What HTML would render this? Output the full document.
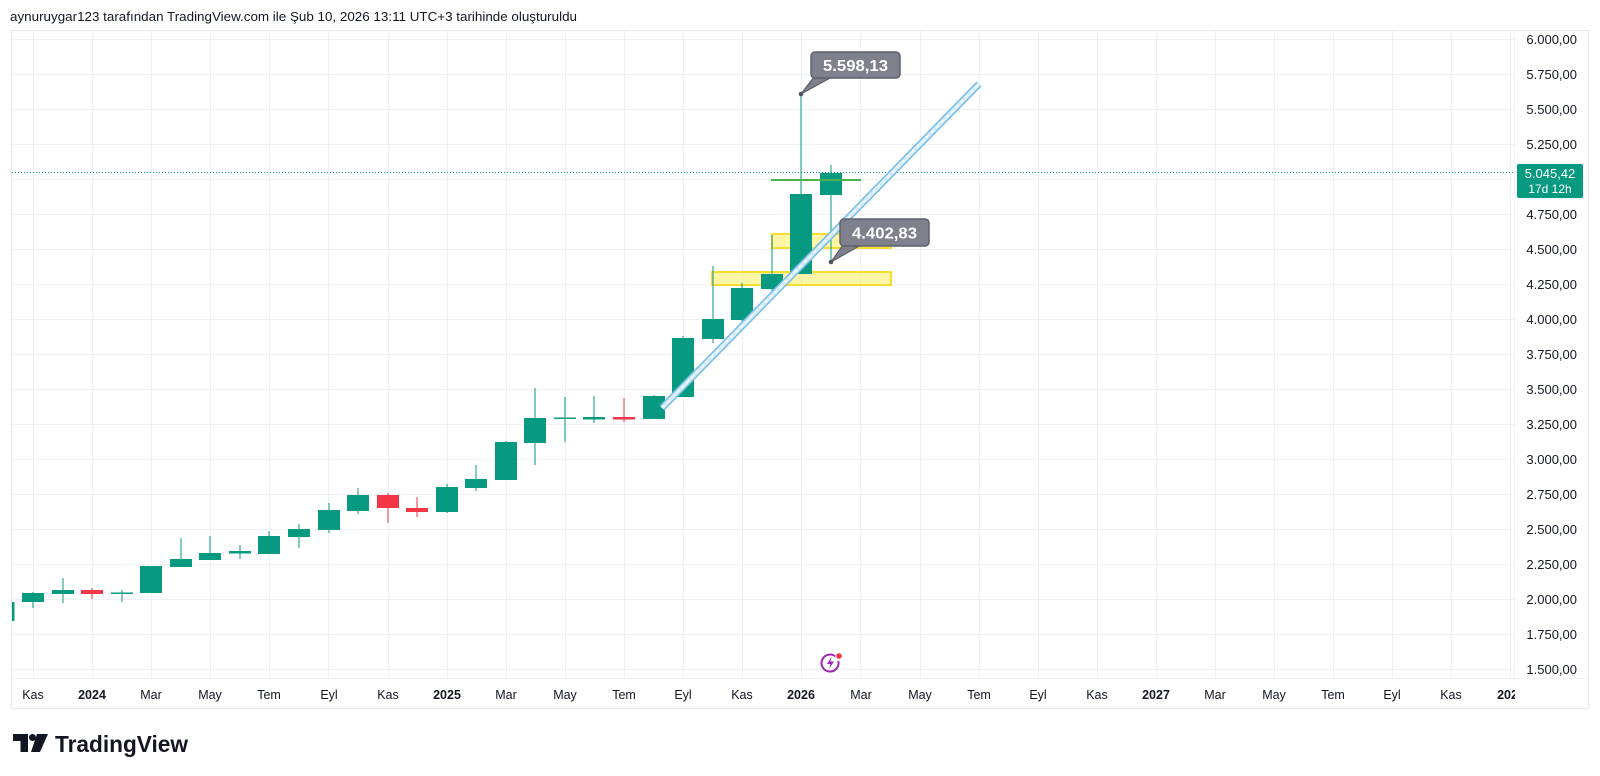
<!DOCTYPE html>
<html><head><meta charset="utf-8"><style>
html,body{margin:0;padding:0;background:#fff;}
svg{display:block;}
</style></head><body>
<svg width="1600" height="776" viewBox="0 0 1600 776" xmlns="http://www.w3.org/2000/svg" font-family="'Liberation Sans', sans-serif">
<rect width="1600" height="776" fill="#ffffff"/>
<text x="10" y="21" font-size="13" fill="#131722" textLength="567" lengthAdjust="spacingAndGlyphs">aynuruygar123 tarafından TradingView.com ile Şub 10, 2026 13:11 UTC+3 tarihinde oluşturuldu</text>

<!-- chart frame -->
<rect x="11.5" y="30.5" width="1577" height="678" fill="none" stroke="#e6e8ee" stroke-width="1"/>
<line x1="1514.5" y1="31" x2="1514.5" y2="678" stroke="#f0f2f6"/>
<line x1="12" y1="678.5" x2="1588" y2="678.5" stroke="#f0f2f6"/>

<defs>
<clipPath id="plot"><rect x="12" y="31" width="1502" height="647"/></clipPath>
<clipPath id="tax"><rect x="12" y="679" width="1503" height="29"/></clipPath>
</defs>

<g stroke="#eef0f4" stroke-width="1">
<line x1="12" x2="1514" y1="39.5" y2="39.5"/><line x1="12" x2="1514" y1="74.5" y2="74.5"/>
<line x1="12" x2="1514" y1="109.5" y2="109.5"/><line x1="12" x2="1514" y1="144.5" y2="144.5"/>
<line x1="12" x2="1514" y1="179.5" y2="179.5"/><line x1="12" x2="1514" y1="214.5" y2="214.5"/>
<line x1="12" x2="1514" y1="249.5" y2="249.5"/><line x1="12" x2="1514" y1="284.5" y2="284.5"/>
<line x1="12" x2="1514" y1="319.5" y2="319.5"/><line x1="12" x2="1514" y1="354.5" y2="354.5"/>
<line x1="12" x2="1514" y1="389.5" y2="389.5"/><line x1="12" x2="1514" y1="424.5" y2="424.5"/>
<line x1="12" x2="1514" y1="459.5" y2="459.5"/><line x1="12" x2="1514" y1="494.5" y2="494.5"/>
<line x1="12" x2="1514" y1="529.5" y2="529.5"/><line x1="12" x2="1514" y1="564.5" y2="564.5"/>
<line x1="12" x2="1514" y1="599.5" y2="599.5"/><line x1="12" x2="1514" y1="634.5" y2="634.5"/>
<line x1="12" x2="1514" y1="669.5" y2="669.5"/>
<line y1="31" y2="678" x1="33.5" x2="33.5"/><line y1="31" y2="678" x1="92.5" x2="92.5"/>
<line y1="31" y2="678" x1="151.5" x2="151.5"/><line y1="31" y2="678" x1="210.5" x2="210.5"/>
<line y1="31" y2="678" x1="269.5" x2="269.5"/><line y1="31" y2="678" x1="328.5" x2="328.5"/>
<line y1="31" y2="678" x1="388.5" x2="388.5"/><line y1="31" y2="678" x1="447.5" x2="447.5"/>
<line y1="31" y2="678" x1="506.5" x2="506.5"/><line y1="31" y2="678" x1="565.5" x2="565.5"/>
<line y1="31" y2="678" x1="624.5" x2="624.5"/><line y1="31" y2="678" x1="683.5" x2="683.5"/>
<line y1="31" y2="678" x1="742.5" x2="742.5"/><line y1="31" y2="678" x1="801.5" x2="801.5"/>
<line y1="31" y2="678" x1="860.5" x2="860.5"/><line y1="31" y2="678" x1="920.5" x2="920.5"/>
<line y1="31" y2="678" x1="979.5" x2="979.5"/><line y1="31" y2="678" x1="1038.5" x2="1038.5"/>
<line y1="31" y2="678" x1="1097.5" x2="1097.5"/><line y1="31" y2="678" x1="1156.5" x2="1156.5"/>
<line y1="31" y2="678" x1="1215.5" x2="1215.5"/><line y1="31" y2="678" x1="1274.5" x2="1274.5"/>
<line y1="31" y2="678" x1="1333.5" x2="1333.5"/><line y1="31" y2="678" x1="1392.5" x2="1392.5"/>
<line y1="31" y2="678" x1="1451.5" x2="1451.5"/><line y1="31" y2="678" x1="1510.5" x2="1510.5"/>
</g>

<g clip-path="url(#plot)">
<line x1="12" x2="1514" y1="172.5" y2="172.5" stroke="#089981" stroke-width="1" stroke-dasharray="1 2"/>

<rect x="772" y="234" width="119" height="14" fill="rgba(255,236,80,0.5)" stroke="#f7dd30" stroke-width="2"/>
<rect x="712" y="272" width="179" height="13" fill="rgba(255,236,80,0.5)" stroke="#f7dd30" stroke-width="2"/>

<g fill="#089981">
<rect x="12" y="602" width="2.5" height="19"/>
<rect x="32.5" y="592" width="1" height="16"/><rect x="22" y="593" width="22" height="9"/>
<rect x="62.5" y="578" width="1" height="25"/><rect x="52" y="590" width="22" height="4"/>
<rect x="121.5" y="590" width="1" height="12"/><rect x="111" y="592.5" width="22" height="1.5"/>
<rect x="150.5" y="566" width="1" height="27"/><rect x="140" y="566" width="22" height="27"/>
<rect x="180.5" y="538" width="1" height="29"/><rect x="170" y="559" width="22" height="8"/>
<rect x="209.5" y="536" width="1" height="24"/><rect x="199" y="553" width="22" height="7"/>
<rect x="239.5" y="545" width="1" height="14"/><rect x="229" y="551" width="22" height="2.5"/>
<rect x="268.5" y="531" width="1" height="23"/><rect x="258" y="536" width="22" height="18"/>
<rect x="298.5" y="524" width="1" height="24"/><rect x="288" y="529" width="22" height="8"/>
<rect x="328.5" y="503" width="1" height="30"/><rect x="318" y="510" width="22" height="20"/>
<rect x="357.5" y="488" width="1" height="26"/><rect x="347" y="495" width="22" height="16"/>
<rect x="446.5" y="484" width="1" height="29"/><rect x="436" y="487" width="22" height="25"/>
<rect x="475.5" y="465" width="1" height="26"/><rect x="465" y="479" width="22" height="9"/>
<rect x="505.5" y="441" width="1" height="39"/><rect x="495" y="442" width="22" height="38"/>
<rect x="534.5" y="388" width="1" height="77"/><rect x="524" y="418" width="22" height="25"/>
<rect x="564.5" y="397" width="1" height="45"/><rect x="554" y="417.5" width="22" height="1.5"/>
<rect x="593.5" y="396" width="1" height="27"/><rect x="583" y="417" width="22" height="2.5"/>
<rect x="653.5" y="395" width="1" height="24"/><rect x="643" y="396" width="22" height="23"/>
<rect x="682.5" y="336" width="1" height="61"/><rect x="672" y="338" width="22" height="59"/>
<rect x="712.5" y="266" width="1" height="77"/><rect x="702" y="319" width="22" height="20"/>
<rect x="741.5" y="283" width="1" height="44"/><rect x="731" y="288" width="22" height="32"/>
<rect x="771.5" y="235" width="1" height="60"/><rect x="761" y="274" width="22" height="15"/>
<rect x="800.5" y="94" width="1" height="180"/><rect x="790" y="194" width="22" height="80"/>
<rect x="830.5" y="165" width="1" height="98"/><rect x="820" y="173" width="22" height="22"/>
</g>
<g fill="#f23645">
<rect x="91.5" y="588" width="1" height="11"/><rect x="81" y="590" width="22" height="4"/>
<rect x="387.5" y="493" width="1" height="30"/><rect x="377" y="495" width="22" height="13"/>
<rect x="416.5" y="497" width="1" height="20"/><rect x="406" y="508" width="22" height="4"/>
<rect x="623.5" y="398" width="1" height="24"/><rect x="613" y="417" width="22" height="2.5"/>
</g>

<line x1="771" x2="861" y1="180" y2="180" stroke="#4caf50" stroke-width="2"/>

<line x1="662" y1="408" x2="979" y2="84" stroke="#78bde6" stroke-width="7"/>
<line x1="662" y1="408" x2="979" y2="84" stroke="#d3ebf9" stroke-width="4"/>
<line x1="662" y1="408" x2="979" y2="84" stroke="#ffffff" stroke-width="1.2" stroke-dasharray="4 3"/>
</g>

<g>
<polygon points="814,77 832,77 801,94" fill="#7e818b" stroke="#5d606b" stroke-width="1.2" stroke-linejoin="round"/>
<rect x="811" y="52" width="89" height="26" rx="4" fill="#7e818b" stroke="#5d606b" stroke-width="1.5"/>
<rect x="815" y="74" width="19" height="3" fill="#7e818b"/>
<circle cx="801" cy="94" r="2.3" fill="#50535e"/>
<text x="855.5" y="71" font-size="16" font-weight="bold" fill="#ffffff" text-anchor="middle" textLength="65" lengthAdjust="spacingAndGlyphs">5.598,13</text>

<polygon points="843,245 861,245 831,262" fill="#7e818b" stroke="#5d606b" stroke-width="1.2" stroke-linejoin="round"/>
<rect x="840" y="219" width="89" height="27" rx="4" fill="#7e818b" stroke="#5d606b" stroke-width="1.5"/>
<rect x="844" y="242" width="19" height="3" fill="#7e818b"/>
<circle cx="831" cy="262" r="2.3" fill="#50535e"/>
<text x="884.5" y="238.5" font-size="16" font-weight="bold" fill="#ffffff" text-anchor="middle" textLength="65" lengthAdjust="spacingAndGlyphs">4.402,83</text>
</g>

<g>
<path d="M836.5,657.5 A8.5,8.5 0 1 0 838.3,661" fill="none" stroke="#9c27b0" stroke-width="2"/>
<path d="M831.5,657 L827,664 L830.5,664 L829,669 L834,661.5 L830.5,661.5 Z" fill="#9c27b0"/>
<circle cx="839" cy="656" r="3.3" fill="#f23645" stroke="#ffffff" stroke-width="1"/>
</g>

<g font-size="13" fill="#131722" text-anchor="end">
<text x="1577" y="44">6.000,00</text>
<text x="1577" y="79">5.750,00</text>
<text x="1577" y="114">5.500,00</text>
<text x="1577" y="149">5.250,00</text>
<text x="1577" y="219">4.750,00</text>
<text x="1577" y="254">4.500,00</text>
<text x="1577" y="289">4.250,00</text>
<text x="1577" y="324">4.000,00</text>
<text x="1577" y="359">3.750,00</text>
<text x="1577" y="394">3.500,00</text>
<text x="1577" y="429">3.250,00</text>
<text x="1577" y="464">3.000,00</text>
<text x="1577" y="499">2.750,00</text>
<text x="1577" y="534">2.500,00</text>
<text x="1577" y="569">2.250,00</text>
<text x="1577" y="604">2.000,00</text>
<text x="1577" y="639">1.750,00</text>
<text x="1577" y="674">1.500,00</text>
</g>
<rect x="1517" y="164" width="66" height="34" rx="2" fill="#089981"/>
<text x="1550" y="178" font-size="13" fill="#ffffff" text-anchor="middle">5.045,42</text>
<text x="1550" y="193" font-size="12" fill="#ffffff" text-anchor="middle">17d 12h</text>

<g clip-path="url(#tax)" font-size="12.5" fill="#131722" text-anchor="middle">
<text x="33" y="699">Kas</text>
<text x="92" y="699" font-weight="bold">2024</text>
<text x="151" y="699">Mar</text>
<text x="210" y="699">May</text>
<text x="269" y="699">Tem</text>
<text x="329" y="699">Eyl</text>
<text x="388" y="699">Kas</text>
<text x="447" y="699" font-weight="bold">2025</text>
<text x="506" y="699">Mar</text>
<text x="565" y="699">May</text>
<text x="624" y="699">Tem</text>
<text x="683" y="699">Eyl</text>
<text x="742" y="699">Kas</text>
<text x="801" y="699" font-weight="bold">2026</text>
<text x="861" y="699">Mar</text>
<text x="920" y="699">May</text>
<text x="979" y="699">Tem</text>
<text x="1038" y="699">Eyl</text>
<text x="1097" y="699">Kas</text>
<text x="1156" y="699" font-weight="bold">2027</text>
<text x="1215" y="699">Mar</text>
<text x="1274" y="699">May</text>
<text x="1333" y="699">Tem</text>
<text x="1392" y="699">Eyl</text>
<text x="1451" y="699">Kas</text>
<text x="1511" y="699" font-weight="bold">2028</text>
</g>

<g fill="#131722">
<path d="M13,734 H28 V752 H20.5 V741 H13 Z"/>
<circle cx="32.5" cy="737.5" r="3.5"/>
<polygon points="37,734 48,734 40,752 31,752"/>
<text x="55" y="752" font-size="23" font-weight="bold" textLength="133" lengthAdjust="spacingAndGlyphs">TradingView</text>
</g>
</svg>
</body></html>
